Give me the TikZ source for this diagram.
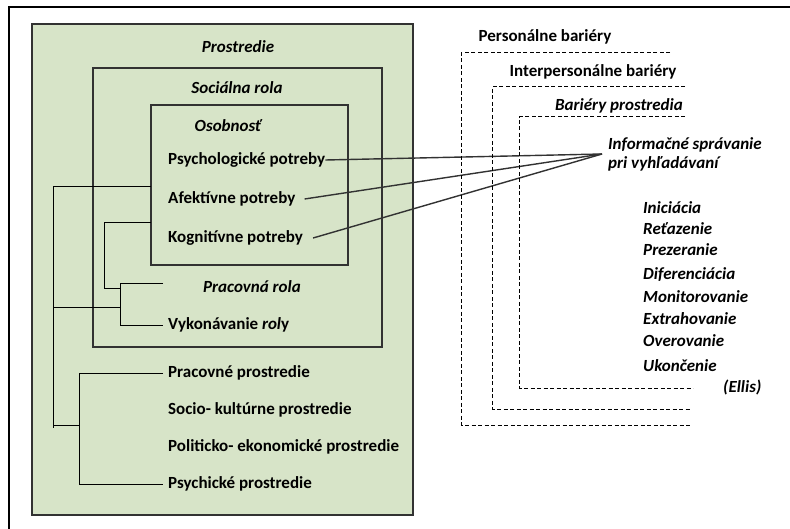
\documentclass[tikz,border=0pt]{standalone}
\usepackage{fontspec}
\setmainfont{Carlito}
\definecolor{boxgreen}{RGB}{215,228,200}
\definecolor{edge}{RGB}{50,50,50}
\begin{document}
\begin{tikzpicture}[x=1pt,y=-1pt,
  lbl/.style={inner sep=0pt,font=\fontsize{17}{19}\selectfont\bfseries},
  ilbl/.style={inner sep=0pt,font=\fontsize{17}{19}\selectfont\bfseries\itshape},
  boxline/.style={draw=edge,line width=1.1pt},
  tree/.style={draw=black,line width=0.9pt},
  ray/.style={draw=edge,line width=1.4pt},
  dashline/.style={draw=black,line width=1pt,dash pattern=on 4pt off 2.5pt}]
\useasboundingbox (0,0) rectangle (790,529);
\fill[white] (0,0) rectangle (790,529);
% outer frame
\draw[line width=2pt] (9,535) -- (9,7) -- (795,7);
% boxes
\draw[boxline,fill=boxgreen] (32,24) rectangle (413,515);
\draw[boxline] (93,68) rectangle (382,347);
\draw[boxline] (151,105) rectangle (348,265);
% texts left
\node[ilbl] (prostredie) at (238,47) {Prostredie};
\node[ilbl] (socrola) at (237,88) {Sociálna rola};
\node[ilbl] (osob) at (228,126) {Osobnosť};
\node[lbl,anchor=west] (psych) at (168,160) {Psychologické potreby};
\node[lbl,anchor=west] (afekt) at (168,199) {Afektívne potreby};
\node[lbl,anchor=west] (kogn) at (168,238) {Kognitívne potreby};
\node[ilbl] (pracrola) at (252,287) {Pracovná rola};
\node[lbl,anchor=west] (vykon) at (168,325) {Vykonávanie \textit{rol}y};
\node[lbl,anchor=west] (pracpr) at (168,373) {Pracovné prostredie};
\node[lbl,anchor=west] (socpr) at (168,410) {Socio- kultúrne prostredie};
\node[lbl,anchor=west] (polpr) at (168,447) {Politicko- ekonomické prostredie};
\node[lbl,anchor=west] (psypr) at (168,484) {Psychické prostredie};
% tree lines
\coordinate (t1) at (53,186);
\coordinate (t1b) at (53,428);
\coordinate (t2) at (104,222);
\coordinate (t2b) at (104,288);
\coordinate (t3a) at (120,283);
\coordinate (t3b) at (120,325);
\coordinate (t3m) at (120,307);
\coordinate (t4a) at (79,373);
\coordinate (t4b) at (79,484);
\coordinate (t4m) at (79,425);
\coordinate (ob1) at (151,186);
\coordinate (ob2) at (151,222);
\coordinate (pr1) at (163,283);
\draw[tree] (ob1) -- (t1) -- (t1b);
\draw[tree] (ob2) -- (t2) -- (t2b) -- (t2b -| t3a);
\draw[tree] (pr1) -- (t3a) -- (t3b) -- ([xshift=-5pt]vykon.west |- t3b);
\draw[tree] (t1 |- t3m) -- (t3m);
\draw[tree] (t1 |- t4m) -- (t4m);
\draw[tree] ([xshift=-5pt]pracpr.west) -- (t4a) -- (t4b) -- ([xshift=-5pt]psypr.west);
% right side
\node[lbl] (persb) at (545,37) {Personálne bariéry};
\node[lbl] (interb) at (593,72) {Interpersonálne bariéry};
\node[ilbl] (barpr) at (619,106) {Bariéry prostredia};
\node[ilbl,anchor=north west,align=left] (info) at (608,137) {Informačné správanie\\pri vyhľadávaní};
\coordinate (conv) at (602,154);
\draw[ray] (psych.east) -- (conv);
\draw[ray] ([xshift=9pt]afekt.east) -- (conv);
\draw[ray] ([xshift=10pt]kogn.east) -- (conv);
\node[ilbl,anchor=west] (s1) at (643,208) {Iniciácia};
\node[ilbl,anchor=west] (s2) at (643,229) {Reťazenie};
\node[ilbl,anchor=west] (s3) at (643,250) {Prezeranie};
\node[ilbl,anchor=west] (s4) at (643,275) {Diferenciácia};
\node[ilbl,anchor=west] (s5) at (643,297) {Monitorovanie};
\node[ilbl,anchor=west] (s6) at (643,319) {Extrahovanie};
\node[ilbl,anchor=west] (s7) at (643,341) {Overovanie};
\node[ilbl,anchor=west] (s8) at (643,366) {Ukončenie};
\node[ilbl,anchor=west] (ellis) at (723,387) {(Ellis)};
% dashed barriers
\draw[dashline] (670,53) -- (461,53) -- (461,425) -- (692,425);
\draw[dashline] (685,87) -- (492,87) -- (492,409) -- (690,409);
\draw[dashline] (685,117) -- (519,117) -- (519,388) -- (693,388);
\end{tikzpicture}
\end{document}
